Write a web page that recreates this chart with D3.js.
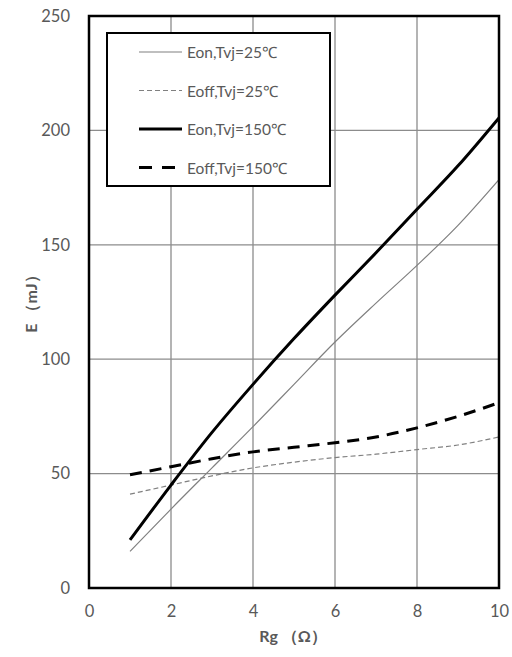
<!DOCTYPE html>
<html>
<head>
<meta charset="utf-8">
<script src="https://cdn.jsdelivr.net/npm/d3@7/dist/d3.min.js"></script>
<style>
  html, body { margin: 0; padding: 0; background: #fff; }
  svg text { font-family: Lato, "Open Sans", "Liberation Sans", sans-serif; fill: #595959; }
</style>
</head>
<body>
<svg id="chart" width="512" height="657"></svg>
<script>
// Gate resistance (Ω)
const rg = [1, 2, 3, 4, 5, 6, 7, 8, 9, 10];
// Switching energy (mJ)
const eon25   = [16, 34.5, 52.5, 70.5, 89, 107.5, 124.5, 141, 158.5, 178.5];
const eoff25  = [41, 45, 49, 52.5, 55, 57, 58.5, 60.5, 62.5, 66];
const eon150  = [21, 45, 68, 89, 109, 128, 146.5, 165.5, 184.5, 205.5];
const eoff150 = [49.5, 53, 56.5, 59.5, 61.5, 63.5, 66, 70, 75, 81];

const xTicks = [0, 2, 4, 6, 8, 10];
const yTicks = [0, 50, 100, 150, 200, 250];

const seriesNames = ["Eon,Tvj=25℃", "Eoff,Tvj=25℃", "Eon,Tvj=150℃", "Eoff,Tvj=150℃"];
const seriesValues = [eon25, eoff25, eon150, eoff150];
const seriesStyle = [
  { stroke: "#808080", width: 1.2, dash: null },
  { stroke: "#808080", width: 1.2, dash: "5,3" },
  { stroke: "#000000", width: 3, dash: null },
  { stroke: "#000000", width: 3, dash: "12,8" }
];

const svg = d3.select("#chart");
const plot = { left: 89, right: 499, top: 16, bottom: 588 };

const x = d3.scaleLinear().domain([0, 10]).range([plot.left, plot.right]);
const y = d3.scaleLinear().domain([0, 250]).range([plot.bottom, plot.top]);

// grid lines
const grid = svg.append("g");
grid.selectAll("line.vx").data(xTicks.slice(1, -1)).enter().append("line")
  .attr("x1", d => x(d)).attr("x2", d => x(d))
  .attr("y1", plot.top).attr("y2", plot.bottom)
  .attr("stroke", "#8c8c8c").attr("stroke-width", 1.3);
grid.selectAll("line.hy").data(yTicks.slice(1, -1)).enter().append("line")
  .attr("y1", d => y(d)).attr("y2", d => y(d))
  .attr("x1", plot.left).attr("x2", plot.right)
  .attr("stroke", "#8c8c8c").attr("stroke-width", 1.3);

// axes (labels only)
const xAxis = svg.append("g").attr("transform", `translate(0,${plot.bottom})`)
  .call(d3.axisBottom(x).tickValues(xTicks).tickSize(0).tickPadding(17));
const yAxis = svg.append("g").attr("transform", `translate(${plot.left},0)`)
  .call(d3.axisLeft(y).tickValues(yTicks).tickSize(0).tickPadding(19));
[xAxis, yAxis].forEach(a => {
  a.select(".domain").remove();
  a.selectAll("text").attr("font-size", 16.5).style("fill", "#595959")
    .style("font-family", "Lato, 'Open Sans', sans-serif");
});

// curves
const line = d3.line().curve(d3.curveMonotoneX)
  .x((d, i) => x(rg[i])).y(d => y(d));
svg.append("clipPath").attr("id", "clip").append("rect")
  .attr("x", plot.left).attr("y", plot.top)
  .attr("width", plot.right - plot.left).attr("height", plot.bottom - plot.top);
const curves = svg.append("g").attr("clip-path", "url(#clip)");
seriesValues.forEach((vals, k) => {
  const s = seriesStyle[k];
  curves.append("path").datum(vals)
    .attr("d", line)
    .attr("fill", "none")
    .attr("stroke", s.stroke)
    .attr("stroke-width", s.width)
    .attr("stroke-dasharray", s.dash);
});

// plot frame
svg.append("rect")
  .attr("x", plot.left).attr("y", plot.top)
  .attr("width", plot.right - plot.left).attr("height", plot.bottom - plot.top)
  .attr("fill", "none").attr("stroke", "#000").attr("stroke-width", 2.5);

// legend
const lg = svg.append("g");
lg.append("rect").attr("x", 107).attr("y", 33).attr("width", 223).attr("height", 153)
  .attr("fill", "#fff").attr("stroke", "#000").attr("stroke-width", 2);
seriesNames.forEach((name, k) => {
  const s = seriesStyle[k];
  const yy = 52 + k * 38.5;
  lg.append("line").attr("x1", 139).attr("x2", 182).attr("y1", yy).attr("y2", yy)
    .attr("stroke", s.stroke).attr("stroke-width", s.width)
    .attr("stroke-dasharray", k === 3 ? "13,10" : s.dash);
  lg.append("text").attr("x", 187).attr("y", yy + 6).attr("font-size", 15.5).text(name);
});

// axis titles
svg.append("text").attr("x", 293).attr("y", 642).attr("text-anchor", "middle")
  .attr("font-size", 16).attr("font-weight", "bold").text("Rg （Ω）");
svg.append("text").attr("transform", "translate(37,300) rotate(-90)")
  .attr("text-anchor", "middle").attr("font-size", 16).attr("font-weight", "bold").text("E （mJ）");
</script>
</body>
</html>
